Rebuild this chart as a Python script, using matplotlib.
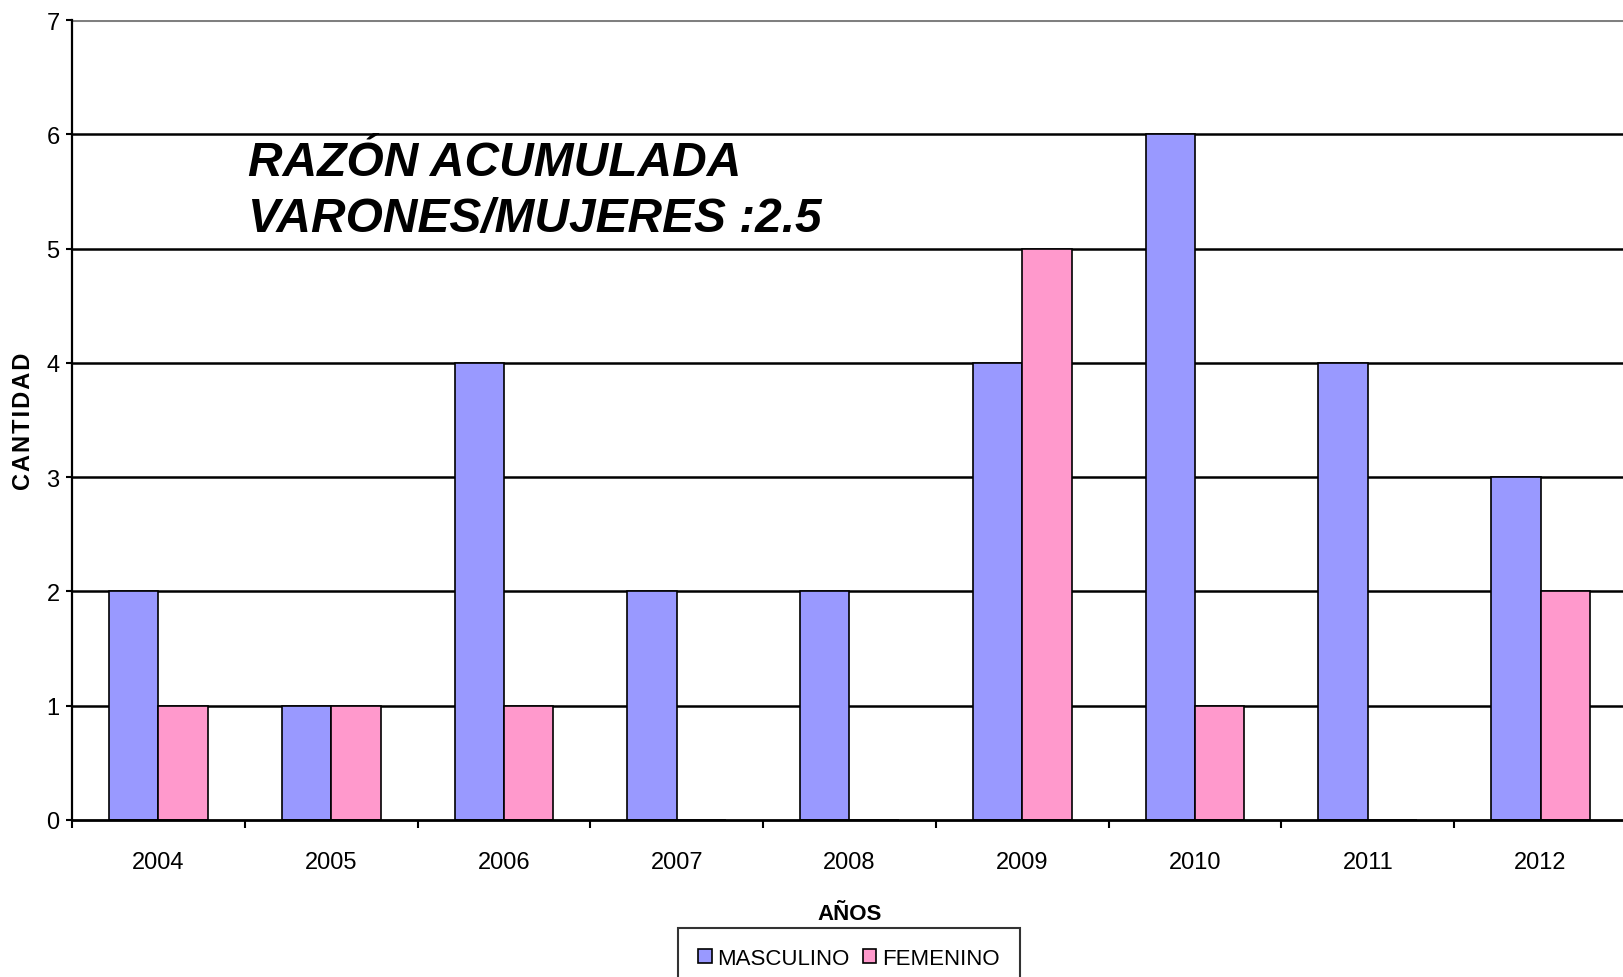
import matplotlib.pyplot as plt
import numpy as np

years = ['2004', '2005', '2006', '2007', '2008', '2009', '2010', '2011', '2012']
masculino = [2, 1, 4, 2, 2, 4, 6, 4, 3]
femenino = [1, 1, 1, 0, 0, 5, 1, 0, 2]

plt.rcParams['font.family'] = ['Liberation Sans', 'DejaVu Sans']

fig = plt.figure(figsize=(16.23, 9.78), dpi=100)
ax = fig.add_axes([72 / 1623, 157 / 978, 1555 / 1623, 800 / 978])

x = np.arange(len(years))
w = 0.2857
ax.bar(x - w / 2, masculino, w, color='#9999FF', edgecolor='black', linewidth=1.2, label='MASCULINO', zorder=3)
ax.bar(x + w / 2, femenino, w, color='#FF99CC', edgecolor='black', linewidth=1.2, label='FEMENINO', zorder=3)

ax.set_xlim(-0.5, len(years) - 0.5)
ax.set_ylim(0, 7)

# horizontal gridlines
for v in range(1, 7):
    ax.axhline(v, color='black', linewidth=1.8, zorder=1)
ax.axhline(7, color='#808080', linewidth=2.2, zorder=1)

for s in ['top', 'right']:
    ax.spines[s].set_visible(False)
ax.spines['left'].set_linewidth(1.6)
ax.spines['bottom'].set_linewidth(2)
ax.spines['bottom'].set_zorder(4)

ax.set_xticks(x)
ax.set_xticklabels(years, fontsize=17)
ax.tick_params(axis='x', which='major', length=0, pad=22)
ax.set_xticks(np.arange(-0.5, len(years)), minor=True)
ax.tick_params(axis='x', which='minor', length=6, width=1.5, direction='out')

ax.set_yticks(range(0, 8))
ax.tick_params(axis='y', length=4, width=1.5, direction='out', labelsize=17, pad=5)

ax.set_ylabel('\u200a'.join('CANTIDAD'), fontsize=17, fontweight='bold')
ax.yaxis.set_label_coords(-0.024, 0.5)
ax.set_xlabel('AÑOS', fontsize=16, fontweight='bold', labelpad=22)

ax.text(0.113, 0.806, 'RAZÓN ACUMULADA', transform=ax.transAxes, fontsize=34.5,
        fontweight='bold', style='italic', va='baseline')
ax.text(0.113, 0.736, 'VARONES/MUJERES :2.5', transform=ax.transAxes, fontsize=34.5,
        fontweight='bold', style='italic', va='baseline')

leg = fig.legend(loc='upper center', bbox_to_anchor=(849 / 1623, 1 - 929 / 978), ncol=2,
                 fontsize=16, frameon=True, fancybox=False, edgecolor='black',
                 handlelength=0.6, handleheight=0.6, handletextpad=0.25, columnspacing=0.6,
                 borderpad=0.9, borderaxespad=0)
leg.get_frame().set_linewidth(1.5)

fig.savefig('out.png', dpi=100)
